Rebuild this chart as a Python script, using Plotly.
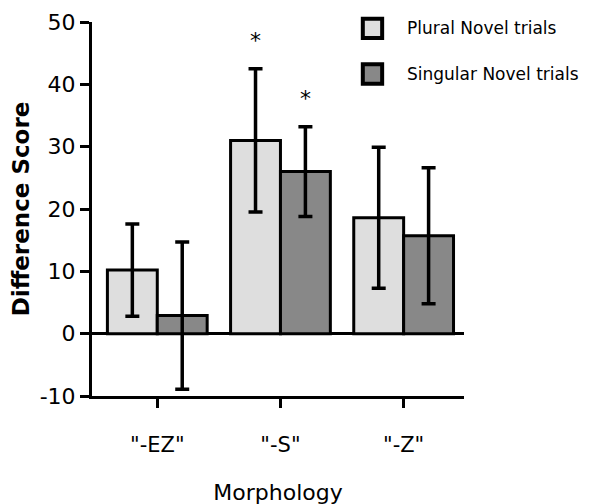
import plotly.graph_objects as go

# bar chart of difference scores by morphology, with error bars

categories = ['"-EZ"', '"-S"', '"-Z"']
series_names = ["Plural Novel trials", "Singular Novel trials"]

plural_values = [10.2, 31.0, 18.6]
plural_errors = [7.4, 11.5, 11.3]

singular_values = [2.9, 26.0, 15.7]
singular_errors = [11.8, 7.2, 10.9]

y_ticks = [-10, 0, 10, 20, 30, 40, 50]
y_tick_labels = ["-10", "0", "10", "20", "30", "40", "50"]

# significance markers: (category index, series index)
stars = [(1, 0), (1, 1)]

fill_colors = ["#dedede", "#888888"]
font = "DejaVu Sans"

fig = go.Figure()

for name, vals, errs, color in zip(series_names,
                                   [plural_values, singular_values],
                                   [plural_errors, singular_errors],
                                   fill_colors):
    fig.add_trace(go.Bar(
        x=categories, y=vals, name=name,
        marker=dict(color=color, line=dict(color="black", width=3)),
        error_y=dict(type="data", array=errs, visible=True,
                     color="black", thickness=3.5, width=7),
        showlegend=False,
    ))

bar_w = 0.405
all_vals = [plural_values, singular_values]
all_errs = [plural_errors, singular_errors]
for ci, si in stars:
    offset = (si - 0.5) * bar_w
    fig.add_annotation(x=ci + offset, y=all_vals[si][ci] + all_errs[si][ci] + 4.6,
                       text="*", showarrow=False,
                       font=dict(family=font, size=22, color="black"))

# hand-made legend (thick-bordered boxes like the original)
legend_y = [0.983, 0.861]
for name, color, ly in zip(series_names, fill_colors, legend_y):
    fig.add_shape(type="rect", xref="paper", yref="paper",
                  x0=0.728, x1=0.78, y0=ly - 0.026, y1=ly + 0.026,
                  fillcolor=color, line=dict(color="black", width=4))
    fig.add_annotation(xref="paper", yref="paper", x=0.842, y=ly,
                       xanchor="left", yanchor="middle", text=name,
                       showarrow=False,
                       font=dict(family=font, size=17, color="black"))

fig.update_layout(
    width=593, height=504,
    margin=dict(l=84, r=137, t=14, b=116),
    plot_bgcolor="white", paper_bgcolor="white",
    barmode="group", bargap=0.19, bargroupgap=0,
    font=dict(family=font, color="black"),
)

fig.update_xaxes(
    range=[-0.53, 2.49], automargin=False,
    showline=True, linecolor="black", linewidth=3,
    ticks="outside", ticklen=9, tickwidth=3, tickcolor="black",
    ticklabelstandoff=19,
    tickfont=dict(size=21),
    title=dict(text="Morphology", font=dict(size=22), standoff=29),
    showgrid=False,
)

fig.update_yaxes(
    range=[-10, 50], tickvals=y_ticks, ticktext=y_tick_labels, automargin=False,
    showline=True, linecolor="black", linewidth=3,
    ticks="outside", ticklen=9, tickwidth=3, tickcolor="black",
    tickfont=dict(size=22),
    title=dict(text="<b>Difference Score</b>", font=dict(size=23), standoff=8),
    showgrid=False,
    zeroline=True, zerolinecolor="black", zerolinewidth=3,
)

fig.write_html("out.html")
